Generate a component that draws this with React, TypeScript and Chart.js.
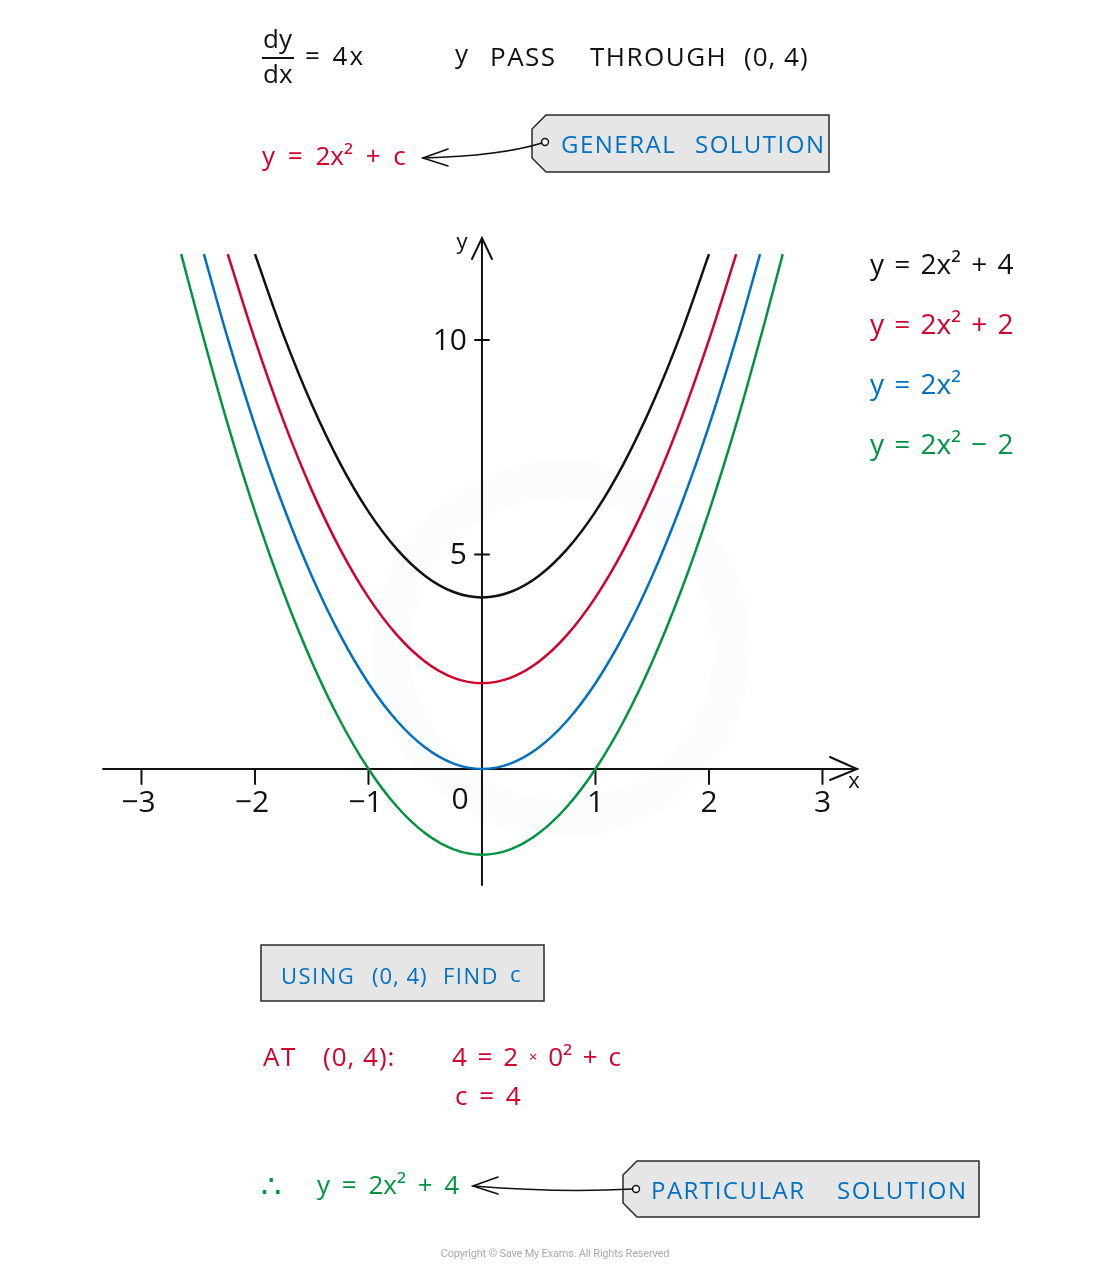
import React, { useEffect, useRef } from "react";
import { Chart, registerables } from "chart.js";

Chart.register(...registerables);

// ---- data ----
const xBlack = [-2, -1.75, -1.5, -1.25, -1, -0.75, -0.5, -0.25, 0, 0.25, 0.5, 0.75, 1, 1.25, 1.5, 1.75, 2];
const yBlack = [12, 10.125, 8.5, 7.125, 6, 5.125, 4.5, 4.125, 4, 4.125, 4.5, 5.125, 6, 7.125, 8.5, 10.125, 12];

const xRed = [-2.24, -2, -1.75, -1.5, -1.25, -1, -0.75, -0.5, -0.25, 0, 0.25, 0.5, 0.75, 1, 1.25, 1.5, 1.75, 2, 2.24];
const yRed = [12, 10, 8.125, 6.5, 5.125, 4, 3.125, 2.5, 2.125, 2, 2.125, 2.5, 3.125, 4, 5.125, 6.5, 8.125, 10, 12];

const xBlue = [-2.45, -2.25, -2, -1.75, -1.5, -1.25, -1, -0.75, -0.5, -0.25, 0, 0.25, 0.5, 0.75, 1, 1.25, 1.5, 1.75, 2, 2.25, 2.45];
const yBlue = [12, 10.125, 8, 6.125, 4.5, 3.125, 2, 1.125, 0.5, 0.125, 0, 0.125, 0.5, 1.125, 2, 3.125, 4.5, 6.125, 8, 10.125, 12];

const xGreen = [-2.65, -2.5, -2.25, -2, -1.75, -1.5, -1.25, -1, -0.75, -0.5, -0.25, 0, 0.25, 0.5, 0.75, 1, 1.25, 1.5, 1.75, 2, 2.25, 2.5, 2.65];
const yGreen = [12, 10.5, 8.125, 6, 4.125, 2.5, 1.125, 0, -0.875, -1.5, -1.875, -2, -1.875, -1.5, -0.875, 0, 1.125, 2.5, 4.125, 6, 8.125, 10.5, 12];

const seriesLabels = ["y = 2x\u00B2 + 4", "y = 2x\u00B2 + 2", "y = 2x\u00B2", "y = 2x\u00B2 \u2212 2"];
const xTickValues = [-3, -2, -1, 1, 2, 3];
const xTickLabels = ["\u22123", "\u22122", "\u22121", "1", "2", "3"];
const yTickValues = [5, 10];
const yTickLabels = ["5", "10"];

const BLACK = "#111111";
const RED = "#d4002c";
const BLUE = "#0070c0";
const GREEN = "#009440";
const FONT = '"Open Sans", "Noto Sans", sans-serif';

const pts = (xs: number[], ys: number[]) => xs.map((x, i) => ({ x, y: ys[i] }));

const drawTag = (ctx: CanvasRenderingContext2D, l: number, t: number, r: number, b: number, cut: number) => {
  ctx.beginPath();
  ctx.moveTo(l + cut, t);
  ctx.lineTo(r, t);
  ctx.lineTo(r, b);
  ctx.lineTo(l + cut, b);
  ctx.lineTo(l, b - cut);
  ctx.lineTo(l, t + cut);
  ctx.closePath();
  ctx.fillStyle = "#e6e6e6";
  ctx.fill();
  ctx.strokeStyle = "#2a2a2a";
  ctx.lineWidth = 1.5;
  ctx.stroke();
};

const drawHole = (ctx: CanvasRenderingContext2D, x: number, y: number) => {
  ctx.beginPath();
  ctx.arc(x, y, 3.5, 0, Math.PI * 2);
  ctx.fillStyle = "#ffffff";
  ctx.fill();
  ctx.strokeStyle = "#111";
  ctx.lineWidth = 1.4;
  ctx.stroke();
};

const drawArrow = (
  ctx: CanvasRenderingContext2D,
  fx: number, fy: number, cx: number, cy: number, tx: number, ty: number
) => {
  ctx.strokeStyle = "#111";
  ctx.lineWidth = 1.6;
  ctx.beginPath();
  ctx.moveTo(fx, fy);
  ctx.quadraticCurveTo(cx, cy, tx, ty);
  ctx.stroke();
  ctx.beginPath();
  ctx.moveTo(tx + 25, ty - 9);
  ctx.lineTo(tx, ty);
  ctx.lineTo(tx + 25, ty + 8);
  ctx.stroke();
};

const overlayPlugin = {
  id: "overlay",
  beforeDatasetsDraw(chart: any) {
    const ctx: any = chart.ctx;
    const xs = chart.scales.x;
    const ys = chart.scales.y;
    const { left, right, top, bottom } = chart.chartArea;
    const x0 = xs.getPixelForValue(0);
    const y0 = ys.getPixelForValue(0);
    ctx.save();

    // very faint watermark ring
    ctx.strokeStyle = "rgba(0,112,192,0.018)";
    ctx.lineWidth = 38;
    ctx.beginPath();
    ctx.arc(x0 + 80, ys.getPixelForValue(2.8), 170, 0, Math.PI * 2);
    ctx.stroke();

    ctx.strokeStyle = BLACK;
    ctx.lineWidth = 2;
    ctx.lineCap = "round";
    // x axis
    ctx.beginPath();
    ctx.moveTo(left, y0);
    ctx.lineTo(right - 1, y0);
    ctx.stroke();
    ctx.beginPath();
    ctx.moveTo(right - 28, y0 - 12);
    ctx.lineTo(right - 1, y0);
    ctx.lineTo(right - 28, y0 + 11);
    ctx.stroke();
    // y axis
    ctx.beginPath();
    ctx.moveTo(x0, bottom);
    ctx.lineTo(x0, top + 1);
    ctx.stroke();
    ctx.beginPath();
    ctx.moveTo(x0 - 10, top + 22);
    ctx.lineTo(x0, top + 1);
    ctx.lineTo(x0 + 10, top + 22);
    ctx.stroke();

    // ticks
    ctx.fillStyle = BLACK;
    ctx.font = `400 30px ${FONT}`;
    ctx.textBaseline = "middle";
    ctx.textAlign = "center";
    xTickValues.forEach((v, i) => {
      const px = xs.getPixelForValue(v);
      ctx.beginPath();
      ctx.moveTo(px, y0);
      ctx.lineTo(px, y0 + 15);
      ctx.stroke();
      ctx.fillText(xTickLabels[i], px + (v < 0 ? -3 : 0), y0 + 34);
    });
    ctx.textAlign = "right";
    yTickValues.forEach((v, i) => {
      const py = ys.getPixelForValue(v);
      ctx.beginPath();
      ctx.moveTo(x0 - 7, py);
      ctx.lineTo(x0 + 7, py);
      ctx.stroke();
      ctx.fillText(yTickLabels[i], x0 - 15, py + 1);
    });
    ctx.textAlign = "center";
    ctx.fillText("0", x0 - 22, y0 + 31);

    // axis names
    ctx.font = `400 22px ${FONT}`;
    ctx.fillText("x", right - 4, y0 + 13);
    ctx.fillText("y", x0 - 20, top + 6);

    // legend
    ctx.font = `400 28px ${FONT}`;
    ctx.textAlign = "left";
    ctx.wordSpacing = "3px";
    chart.data.datasets.forEach((ds: any, i: number) => {
      ctx.fillStyle = ds.borderColor;
      ctx.fillText(ds.label, right + 12, top + 29 + i * 60);
    });
    ctx.wordSpacing = "0px";

    // tags, boxes, arrows
    drawTag(ctx, 532, 115, 829, 172, 14);
    drawHole(ctx, 545, 142);
    drawArrow(ctx, 542, 143, 500, 156, 423, 158);

    ctx.fillStyle = "#e6e6e6";
    ctx.fillRect(261, 945, 283, 56);
    ctx.strokeStyle = "#2a2a2a";
    ctx.lineWidth = 1.5;
    ctx.strokeRect(261, 945, 283, 56);

    drawTag(ctx, 623, 1161, 979, 1217, 14);
    drawHole(ctx, 636, 1189);
    drawArrow(ctx, 633, 1189, 560, 1193, 473, 1186);

    ctx.restore();
  },
};

type TProps = { x: number; y: number; size: number; color: string; ls?: number; ws?: number; children: React.ReactNode };
const T = ({ x, y, size, color, ls = 0, ws = 0, children }: TProps) => (
  <div
    style={{
      position: "absolute",
      left: x,
      top: y - size * 0.6,
      height: size * 1.2,
      lineHeight: `${size * 1.2}px`,
      fontSize: size,
      fontFamily: FONT,
      color,
      letterSpacing: ls,
      wordSpacing: ws,
      whiteSpace: "pre",
    }}
  >
    {children}
  </div>
);

export default function App() {
  const ref = useRef<HTMLCanvasElement | null>(null);

  useEffect(() => {
    if (!ref.current) return;
    const chart = new Chart(ref.current, {
      type: "line",
      data: {
        datasets: [
          { label: seriesLabels[0], data: pts(xBlack, yBlack), borderColor: BLACK },
          { label: seriesLabels[1], data: pts(xRed, yRed), borderColor: RED },
          { label: seriesLabels[2], data: pts(xBlue, yBlue), borderColor: BLUE },
          { label: seriesLabels[3], data: pts(xGreen, yGreen), borderColor: GREEN },
        ] as any,
      },
      options: {
        animation: false,
        responsive: false,
        devicePixelRatio: 1,
        layout: { padding: { left: 103, right: 242, top: 237, bottom: 392 } },
        scales: {
          x: { type: "linear", min: -3.339, max: 3.313, display: false },
          y: { type: "linear", min: -2.704, max: 12.4, display: false },
        },
        elements: {
          point: { radius: 0 },
          line: { borderWidth: 2.5, cubicInterpolationMode: "monotone", fill: false },
        },
        plugins: { legend: { display: false }, tooltip: { enabled: false } },
      } as any,
      plugins: [overlayPlugin],
    });
    return () => chart.destroy();
  }, []);

  return (
    <div style={{ position: "absolute", left: 0, top: 0, width: 1100, height: 1277, background: "#fff" }}>
      <canvas ref={ref} width={1100} height={1277} style={{ position: "absolute", left: 0, top: 0 }} />

      {/* header */}
      <T x={263} y={39} size={26} color={BLACK}>dy</T>
      <div style={{ position: "absolute", left: 262, top: 57, width: 32, height: 1.6, background: BLACK }} />
      <T x={263} y={74} size={26} color={BLACK}>dx</T>
      <T x={305} y={56} size={26} color={BLACK} ls={2} ws={2}>= 4x</T>
      <T x={455} y={54} size={26} color={BLACK}>y</T>
      <T x={490} y={57} size={26} color={BLACK} ls={1.5}>PASS</T>
      <T x={590} y={57} size={26} color={BLACK} ls={1.5}>THROUGH</T>
      <T x={744} y={57} size={26} color={BLACK} ls={1}>(0, 4)</T>

      {/* general solution */}
      <T x={262} y={156} size={26} color={RED} ws={6}>y = 2x² + c</T>
      <T x={561} y={144} size={24} color={BLUE} ls={1.5}>GENERAL</T>
      <T x={695} y={144} size={24} color={BLUE} ls={1.5}>SOLUTION</T>

      {/* using (0,4) */}
      <T x={281} y={975} size={22} color={BLUE} ls={1.5}>USING</T>
      <T x={372} y={975} size={22} color={BLUE} ls={1}>(0, 4)</T>
      <T x={443} y={975} size={22} color={BLUE} ls={1.5}>FIND</T>
      <T x={510} y={973} size={22} color={BLUE}>c</T>

      <T x={263} y={1057} size={26} color={RED} ls={1.5}>AT</T>
      <T x={323} y={1057} size={26} color={RED} ls={1}>(0, 4):</T>
      <T x={452} y={1057} size={26} color={RED} ws={4}>
        4 = 2 <span style={{ fontSize: 15, verticalAlign: "4px" }}>×</span> 0² + c
      </T>
      <T x={455} y={1096} size={26} color={RED} ws={5}>c = 4</T>

      {/* particular solution */}
      <T x={261} y={1185} size={32} color={GREEN}>∴</T>
      <T x={317} y={1185} size={26} color={GREEN} ws={5}>y = 2x² + 4</T>
      <T x={651} y={1190} size={24} color={BLUE} ls={1.5}>PARTICULAR</T>
      <T x={837} y={1190} size={24} color={BLUE} ls={1.5}>SOLUTION</T>

      <div
        style={{
          position: "absolute",
          left: 0,
          width: 1110,
          top: 1247,
          textAlign: "center",
          fontFamily: '"Liberation Sans Narrow", "Roboto", sans-serif',
          fontSize: 11,
          color: "#aaaaaa",
          letterSpacing: -0.2,
        }}
      >
        Copyright © Save My Exams. All Rights Reserved
      </div>
    </div>
  );
}
